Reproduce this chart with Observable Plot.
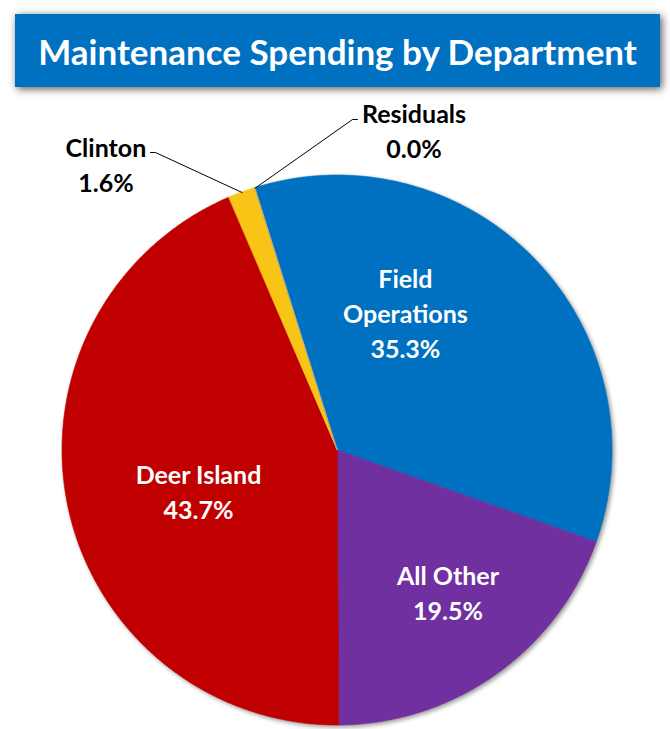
<!DOCTYPE html>
<html>
<head>
<meta charset="utf-8">
<script src="https://cdn.jsdelivr.net/npm/d3@7"></script>
<script src="https://cdn.jsdelivr.net/npm/@observablehq/plot@0.6"></script>
<style>
  html, body { margin: 0; padding: 0; background: #fff; }
  #wrap { width: 670px; height: 729px; position: relative; overflow: hidden; }
  #title {
    position: absolute; left: 15px; top: 14px; width: 645px; height: 73px;
    background: #0070C0; color: #fff;
    box-shadow: 2px 2px 8px rgba(0,0,0,0.65);
    font-family: Lato, "Open Sans", sans-serif; font-weight: 700; font-size: 35px;
    display: flex; align-items: center; justify-content: center;
  }
  #chart { position: absolute; left: 0; top: 92px; }
  #chart g[aria-label="area"] { filter: drop-shadow(2px 2px 2px rgba(0,0,0,0.4)); }
</style>
</head>
<body>
<div id="wrap">
  <div id="title">Maintenance Spending by Department</div>
  <div id="chart"></div>
</div>
<script>
// ---- data ----
const categories = ["Field Operations", "All Other", "Deer Island", "Clinton", "Residuals"];
const labelTexts = ["Field\nOperations", "All Other", "Deer Island", "Clinton", "Residuals"];
const values = [35.3, 19.5, 43.7, 1.6, 0.0];
const colors = ["#0070C0", "#7030A0", "#C00000", "#F8C517", "#A5A5A5"];
const labelColors = ["#fff", "#fff", "#fff", "#000", "#000"];

// ---- layout (polar placement of labels: angle deg clockwise from top, radius fraction) ----
const startAngle = -17.4;
const labelPolar = [[26.06, 0.562], [141.84, 0.650], [253.94, 0.526], [321.1, 1.341], [13.4, 1.200]];
const leaderKnees = {"Clinton": [[-0.662, 1.0836], [-0.680, 1.0836]],
                     "Residuals": [[0.0545, 1.2036], [0.0727, 1.2036]]};

const W = 670, H = 637, cx = 337, cy = 358, R = 275;

const total = d3.sum(values);
const toRad = a => a * Math.PI / 180;
const polar = (a, r) => [r * Math.sin(toRad(a)), r * Math.cos(toRad(a))];

let acc = startAngle;
const slices = categories.map((name, i) => {
  const a0 = acc, a1 = acc + values[i] / total * 360;
  acc = a1;
  return {name, a0, a1, value: values[i]};
});

const arcPts = [];
for (const s of slices) {
  const n = Math.max(1, Math.ceil((s.a1 - s.a0) / 0.5));
  for (let k = 0; k <= n; k++) {
    const a = s.a0 + (s.a1 - s.a0) * k / n;
    const [x, y] = polar(a, 1);
    arcPts.push({name: s.name, x, y});
  }
}

const labels = slices.map((s, i) => {
  const [x, y] = polar(labelPolar[i][0], labelPolar[i][1]);
  return {name: s.name, x, y, text: labelTexts[i] + "\n" + s.value.toFixed(1) + "%", color: labelColors[i]};
});

const leaderPts = [];
for (const s of slices) {
  if (!leaderKnees[s.name]) continue;
  const [x0, y0] = polar((s.a0 + s.a1) / 2, 1);
  leaderPts.push({name: s.name, x: x0, y: y0});
  for (const [x, y] of leaderKnees[s.name]) leaderPts.push({name: s.name, x, y});
}

const chart = Plot.plot({
  width: W, height: H,
  marginTop: 0, marginBottom: 0, marginLeft: 0, marginRight: 0,
  x: {domain: [-cx / R, (W - cx) / R], axis: null},
  y: {domain: [-(H - cy) / R, cy / R], axis: null},
  color: {domain: categories, range: colors},
  style: {fontFamily: "Lato, 'Open Sans', sans-serif", background: "transparent", overflow: "visible"},
  marks: [
    Plot.area(arcPts, {x1: "x", y1: "y", x2: 0, y2: 0, z: "name", fill: "name", stroke: "name", strokeWidth: 0.6, curve: "linear"}),
    Plot.line(leaderPts, {x: "x", y: "y", z: "name", stroke: "#000", strokeWidth: 1}),
    Plot.text(labels, {x: "x", y: "y", text: "text", fill: "color", fontSize: 25, fontWeight: "bold", lineHeight: 35 / 25, lineAnchor: "middle"})
  ]
});
document.getElementById("chart").appendChild(chart);
</script>
</body>
</html>
